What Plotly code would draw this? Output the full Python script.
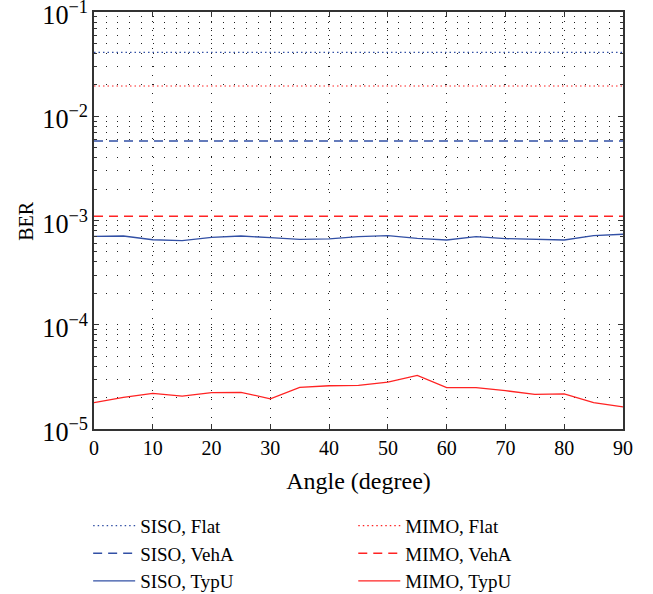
import plotly.graph_objects as go

angle = list(range(0, 95, 5))

siso_flat = [4.1e-2] * 19
mimo_flat = [1.95e-2] * 19
siso_veha = [5.8e-3] * 19
mimo_veha = [1.1e-3] * 19
siso_typu = [7.05e-4, 7.1e-4, 6.54e-4, 6.4e-4, 6.9e-4, 7.1e-4, 6.84e-4, 6.6e-4, 6.65e-4, 7.0e-4,
             7.15e-4, 6.75e-4, 6.5e-4, 7.0e-4, 6.7e-4, 6.65e-4, 6.5e-4, 7.15e-4, 7.38e-4]
mimo_typu = [1.79e-5, 2.01e-5, 2.2e-5, 2.07e-5, 2.23e-5, 2.25e-5, 1.95e-5, 2.51e-5, 2.6e-5, 2.62e-5,
             2.82e-5, 3.27e-5, 2.49e-5, 2.49e-5, 2.33e-5, 2.15e-5, 2.17e-5, 1.79e-5, 1.63e-5]

BLUE = "rgb(50,80,165)"
RED = "rgb(255,35,35)"
FONT = "Liberation Serif"

series = [
    ("SISO, Flat", siso_flat, BLUE, "1.5px,3px", 1.2, "legend"),
    ("SISO, VehA", siso_veha, BLUE, "9px,6px", 1.5, "legend"),
    ("SISO, TypU", siso_typu, BLUE, "solid", 1.3, "legend"),
    ("MIMO, Flat", mimo_flat, RED, "1.5px,3px", 1.2, "legend2"),
    ("MIMO, VehA", mimo_veha, RED, "9px,6px", 1.5, "legend2"),
    ("MIMO, TypU", mimo_typu, RED, "solid", 1.3, "legend2"),
]

fig = go.Figure()
for name, vals, color, dash, w, leg in series:
    fig.add_trace(go.Scatter(x=angle, y=vals, mode="lines", name=name, legend=leg,
                             line=dict(color=color, dash=dash, width=w)))

gridcol = "#222"
legend_style = dict(xanchor="left", yanchor="top", xref="container", yref="container",
                    y=0.147, bgcolor="rgba(0,0,0,0)", font=dict(size=19),
                    tracegroupgap=0, itemwidth=42)
fig.update_layout(
    width=653, height=594,
    margin=dict(l=94, r=30, t=12, b=165, autoexpand=False),
    paper_bgcolor="white", plot_bgcolor="white",
    font=dict(family=FONT, size=20, color="black"),
    showlegend=True,
    legend=dict(x=0.135, **legend_style),
    legend2=dict(x=0.541, **legend_style),
    xaxis=dict(range=[0, 90], tickmode="linear", tick0=0, dtick=10,
               ticks="inside", ticklen=5, tickcolor="#333",
               showline=True, linecolor="#333", linewidth=1.5, mirror="ticks",
               showgrid=True, gridcolor=gridcol, griddash="1px,8px", gridwidth=1,
               zeroline=False,
               title=dict(text="Angle (degree)", standoff=14)),
    yaxis=dict(type="log", range=[-5, -1], tickmode="linear", tick0=0, dtick=1,
               exponentformat="power", ticklabeloverflow="allow", ticklabelshift=3,
               ticks="inside", ticklen=5, tickcolor="#333",
               showline=True, linecolor="#333", linewidth=1.5, mirror="ticks",
               showgrid=True, gridcolor=gridcol, griddash="1px,10.7px", gridwidth=1,
               zeroline=False, tickfont=dict(size=21),
               minor=dict(ticks="inside", ticklen=3, tickcolor="#333", dtick="D1",
                          showgrid=True, gridcolor=gridcol, griddash="1px,10.7px", gridwidth=1)),
    # y title as a rotated annotation (axis title misplaces with fixed margins)
    annotations=[dict(text="BER", textangle=-90, xref="paper", yref="paper",
                      x=-0.13, y=0.5, xanchor="center", yanchor="middle",
                      showarrow=False, font=dict(size=20))],
)

fig.write_html("out.html", config={"displayModeBar": False},
               post_script="document.body.style.margin='0px';")
